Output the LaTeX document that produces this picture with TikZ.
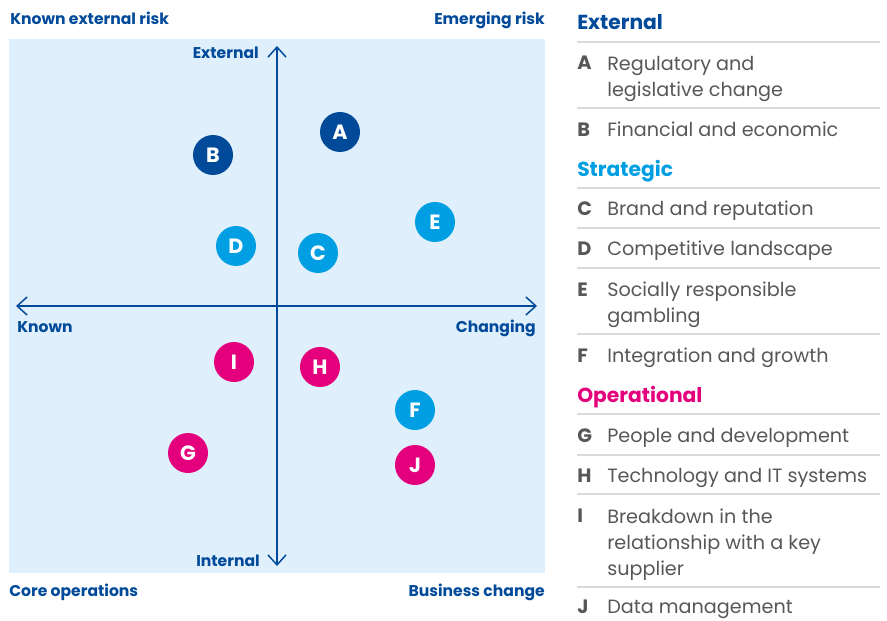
\documentclass[tikz,border=0pt]{standalone}
\usepackage{fontspec}
\setmainfont{Poppins}
\usetikzlibrary{arrows.meta}
\definecolor{extblue}{HTML}{004A99}
\definecolor{strblue}{HTML}{009FE3}
\definecolor{opmag}{HTML}{E4007C}
\definecolor{panelbg}{HTML}{DFF0FC}
\definecolor{rulegray}{HTML}{DADADA}
\definecolor{txtgray}{HTML}{575757}
\begin{document}
\begin{tikzpicture}[x=0.75pt,y=-0.75pt,>={Straight Barb[length=7.5pt,width=13.5pt]},
  risk/.style={circle,minimum size=30pt,inner sep=0pt,text=white,font=\fontsize{15.5}{16}\selectfont\bfseries},
  corner/.style={text=extblue,font=\fontsize{11.7}{12}\selectfont\bfseries,inner sep=0pt},
  head/.style={font=\fontsize{15.2}{16}\selectfont\bfseries,inner sep=0pt,anchor=base west},
  key/.style={text=txtgray,font=\fontsize{14.5}{19.5}\selectfont\bfseries,inner sep=0pt,anchor=base west},
  item/.style={text=txtgray,font=\fontsize{14.4}{19.5}\selectfont,inner sep=0pt,anchor=base west,align=left},
  rule/.style={rulegray,line width=1.5pt}]
\useasboundingbox (0,0) rectangle (887,620);
% matrix panel
\fill[panelbg] (9,39) rectangle (545,573);
\coordinate (top) at (277,46);
\coordinate (bot) at (277,566);
\coordinate (lft) at (16,306);
\coordinate (rgt) at (537,306);
\draw[<->,extblue,line width=1.1pt] (bot)--(top);
\draw[<->,extblue,line width=1.1pt] (lft)--(rgt);
\node[corner,anchor=base west] (knownext) at (10,25) {Known external risk};
\node[corner,anchor=base east] (emerging) at (545,25) {Emerging risk};
\node[corner,anchor=base west] (coreops) at (9,596) {Core operations};
\node[corner,anchor=base east] (buschange) at (545,596) {Business change};
\node[corner,anchor=base east] (external) at (259,59) {External};
\node[corner,anchor=base east] (internal) at (260,566) {Internal};
\node[corner,anchor=base west] (known) at (17,332) {Known};
\node[corner,anchor=base east] (changing) at (536,332) {Changing};
% risks
\node[risk,fill=extblue] (A) at (340,132) {A};
\node[risk,fill=extblue] (B) at (213,155) {B};
\node[risk,fill=strblue] (C) at (318,253) {C};
\node[risk,fill=strblue] (D) at (236,246) {D};
\node[risk,fill=strblue] (E) at (435,222) {E};
\node[risk,fill=strblue] (F) at (415,410) {F};
\node[risk,fill=opmag] (G) at (188,453) {G};
\node[risk,fill=opmag] (H) at (320,367) {H};
\node[risk,fill=opmag] (I) at (234,362) {I};
\node[risk,fill=opmag] (J) at (415,465) {J};
% key
\node[head,text=extblue] (hext) at (577,30) {External};
\draw[rule] (577,42)--(880,42);
\node[key] (kA) at (577,70) {A};
\node[item] (tA) at (607,97) {Regulatory and\\legislative change};
\draw[rule] (577,108)--(880,108);
\node[key] (kB) at (577,137) {B};
\node[item] (tB) at (607,137) {Financial and economic};
\node[head,text=strblue] (hstr) at (577,177) {Strategic};
\draw[rule] (577,188)--(880,188);
\node[key] (kC) at (577,215) {C};
\node[item] (tC) at (607,215) {Brand and reputation};
\draw[rule] (577,228)--(880,228);
\node[key] (kD) at (577,255) {D};
\node[item] (tD) at (607,255) {Competitive landscape};
\draw[rule] (577,268)--(880,268);
\node[key] (kE) at (577,296) {E};
\node[item] (tE) at (607,322) {Socially responsible\\gambling};
\draw[rule] (577,334)--(880,334);
\node[key] (kF) at (577,362) {F};
\node[item] (tF) at (607,362) {Integration and growth};
\node[head,text=opmag] (hop) at (577,402) {Operational};
\draw[rule] (577,414)--(880,414);
\node[key] (kG) at (577,442) {G};
\node[item] (tG) at (607,442) {People and development};
\draw[rule] (577,455)--(880,455);
\node[key] (kH) at (577,482) {H};
\node[item] (tH) at (607,482) {Technology and IT systems};
\draw[rule] (577,494)--(880,494);
\node[key] (kI) at (577,522) {I};
\node[item] (tI) at (607,575) {Breakdown in the\\relationship with a key\\supplier};
\draw[rule] (577,587)--(880,587);
\node[key] (kJ) at (577,613) {J};
\node[item] (tJ) at (607,613) {Data management};
\end{tikzpicture}
\end{document}
